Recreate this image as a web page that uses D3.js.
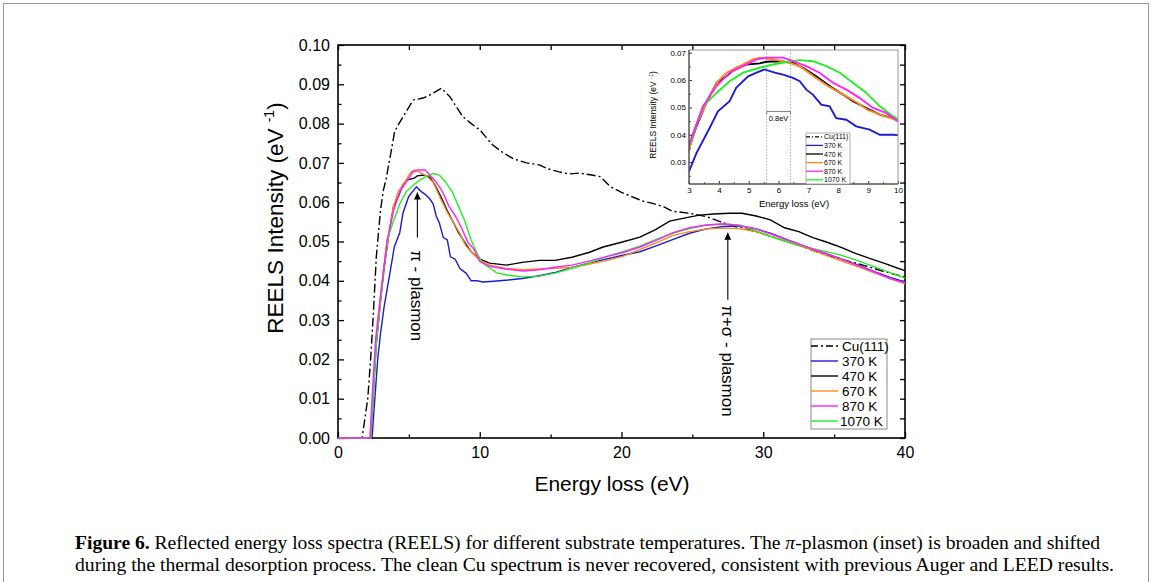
<!DOCTYPE html>
<html lang="en">
<head>
<meta charset="UTF-8">
<title>REELS spectra</title>
<script src="https://cdn.jsdelivr.net/npm/d3@7"></script>
<style>
    body { margin: 0; background: #fff; }
    #chart text { font-family: "Liberation Sans", Arial, sans-serif; fill: #000; }
    #chart .caption text { font-family: "Liberation Serif", "Times New Roman", serif; }
</style>
</head>
<body>
<div id="chart"></div>
<script type="text/javascript">
    // [energy loss (eV), intensity (1/eV)]
    var cu111 = [[0,0],[1.7,0],[1.9,0.005],[2.1,0.010],[2.3,0.020],[2.5,0.032],[2.7,0.046],[3.0,0.058],[3.2,0.063],[3.4,0.066],
        [3.7,0.072],[4.0,0.078],[4.3,0.080],[4.8,0.083],[5.3,0.086],[6.0,0.0865],[6.6,0.0875],[7.3,0.089],[7.9,0.0868],[8.4,0.084],
        [8.8,0.0818],[9.4,0.080],[10.0,0.0784],[10.9,0.0746],[11.6,0.0727],[12.4,0.071],[13.3,0.070],[14.2,0.0695],[14.8,0.0685],
        [15.6,0.0677],[16.3,0.0672],[17.0,0.0674],[17.8,0.067],[18.5,0.0665],[19.2,0.064],[20.0,0.0625],[20.8,0.0613],[21.5,0.0603],
        [22.2,0.0597],[23.0,0.0588],[23.6,0.0577],[24.8,0.0572],[26.0,0.0563],[27.0,0.055],[28.0,0.0538],[29.0,0.053],[30.2,0.0517],
        [31.4,0.0503],[32.5,0.049],[33.7,0.0475],[34.9,0.046],[36.0,0.045],[37.2,0.0438],[38.4,0.0425],[39.6,0.0413],[40,0.041]];
    var k370 = [[0,0],[2.4,0],[2.6,0.010],[2.8,0.020],[3.0,0.0266],[3.25,0.0333],[3.69,0.0425],[3.97,0.0486],[4.36,0.0523],[4.58,0.0572],
        [4.98,0.0614],[5.26,0.0627],[5.53,0.0639],[5.87,0.0627],[6.15,0.062],[6.48,0.0608],[6.71,0.0596],[6.93,0.0565],[7.15,0.0547],
        [7.43,0.051],[7.71,0.0504],[7.93,0.0461],[8.27,0.0455],[8.6,0.0431],[9.05,0.0419],[9.39,0.040],[9.83,0.040],[10.2,0.0397],
        [11,0.0399],[12,0.0402],[13,0.0406],[14.2,0.0413],[15.4,0.0422],[16.5,0.0434],[17.7,0.0445],[18.9,0.0455],[20.1,0.0465],
        [21.3,0.0474],[22.4,0.0488],[23.6,0.0505],[24.8,0.0521],[26,0.0532],[27.2,0.0538],[28.3,0.054],[29.5,0.0532],[30.6,0.052],
        [31.8,0.0503],[33,0.0487],[34.2,0.0472],[35.4,0.0457],[36.6,0.0441],[37.8,0.0424],[39,0.0408],[40,0.0397]];
    var k470 = [[0,0],[2.3,0],[2.5,0.012],[2.7,0.024],[2.9,0.031],[3.0,0.035],[3.25,0.0431],[3.58,0.0517],[3.92,0.059],[4.25,0.0614],
        [4.58,0.0645],[4.92,0.0657],[5.37,0.0661],[5.59,0.0667],[6.04,0.0669],[6.48,0.0663],[6.82,0.0645],[7.26,0.0614],[7.71,0.0578],
        [8.16,0.0547],[8.49,0.0523],[8.94,0.0498],[9.39,0.0474],[10,0.0455],[10.7,0.0445],[11.9,0.044],[13,0.0447],[14.2,0.0452],
        [15.3,0.0452],[16.5,0.046],[17.7,0.0472],[18.7,0.0486],[20,0.0498],[21.3,0.0511],[22.4,0.053],[23.4,0.0552],[24.5,0.056],
        [25.5,0.0567],[26.5,0.057],[27.6,0.0572],[28.5,0.0572],[29.5,0.0565],[30.5,0.0555],[31.5,0.0535],[32.5,0.0525],[33.5,0.051],
        [34.5,0.0498],[35.5,0.0485],[36.5,0.047],[37.5,0.0457],[38.5,0.0445],[39.5,0.0432],[40,0.0426]];
    var k670 = [[0,0],[2.3,0],[2.5,0.013],[2.7,0.025],[2.9,0.031],[3.0,0.0345],[3.25,0.0437],[3.69,0.0541],[3.92,0.059],[4.25,0.0627],
        [4.7,0.0651],[5.14,0.0676],[5.37,0.0682],[5.81,0.0676],[6.26,0.0666],[6.71,0.0651],[7.2,0.0612],[7.7,0.0575],[8.2,0.0545],
        [8.6,0.052],[9.0,0.049],[9.5,0.047],[10,0.0452],[10.7,0.044],[11.8,0.0432],[13,0.0428],[14.2,0.043],[15.4,0.0432],[16.5,0.0434],
        [17.7,0.0442],[19,0.0452],[20.1,0.0462],[21.2,0.0478],[22.4,0.0496],[23.6,0.0515],[24.8,0.0525],[26,0.0532],[27.2,0.0534],
        [28.3,0.0533],[29.5,0.0525],[30.6,0.0512],[31.8,0.0498],[33,0.0484],[34.2,0.0468],[35.4,0.0452],[36.6,0.0437],[37.8,0.0421],
        [39,0.0405],[40,0.0392]];
    var k870 = [[0,0],[2.25,0],[2.45,0.013],[2.65,0.025],[2.8,0.030],[3.0,0.0364],[3.47,0.0504],[3.92,0.0578],[4.36,0.0627],[4.81,0.0651],
        [5.26,0.0676],[5.59,0.0682],[6.15,0.0682],[6.48,0.0669],[6.93,0.0651],[7.37,0.0627],[7.82,0.059],[8.27,0.0565],[8.71,0.0535],
        [9.16,0.0498],[9.6,0.048],[10,0.0449],[10.7,0.0437],[11.8,0.043],[13,0.0425],[14.2,0.0428],[15.4,0.0435],[16.5,0.044],
        [17.7,0.045],[19,0.0462],[20.1,0.0472],[21.3,0.0486],[22.4,0.0502],[23.6,0.0522],[24.8,0.0535],[26,0.0542],[27.2,0.0545],
        [28.3,0.0541],[29.5,0.0532],[30.6,0.0518],[31.8,0.0503],[33,0.0487],[34.2,0.0472],[35.4,0.0457],[36.6,0.044],[37.8,0.0423],
        [39,0.0405],[40,0.0395]];
    var k1070 = [[0,0],[2.3,0],[2.5,0.012],[2.7,0.024],[2.85,0.030],[3.0,0.0358],[3.47,0.0504],[3.92,0.0553],[4.36,0.0596],[4.81,0.0627],
        [5.37,0.0645],[5.81,0.0657],[6.26,0.0666],[6.71,0.0673],[7.15,0.0669],[7.6,0.0651],[8.05,0.0627],[8.49,0.059],[8.94,0.0553],
        [9.39,0.0504],[9.83,0.0468],[10.2,0.0445],[11.2,0.042],[12,0.0414],[13,0.041],[14.2,0.0412],[15.4,0.042],[16.5,0.0432],
        [17.7,0.0445],[19,0.0462],[20.1,0.0474],[21.3,0.0488],[22.4,0.0505],[23.6,0.0521],[24.8,0.0533],[26,0.0542],[27.2,0.0544],
        [28.3,0.0542],[29.5,0.0527],[30.6,0.0512],[31.8,0.0498],[33,0.0486],[34.2,0.0476],[35.4,0.0466],[36.6,0.0452],[37.8,0.0436],
        [39,0.042],[40,0.0407]];

    var seriesNames = ['Cu(111)', '370 K', '470 K', '670 K', '870 K', '1070 K'];
    var seriesData = [cu111, k370, k470, k670, k1070, k870];
    var legendOrder = [0, 1, 2, 3, 5, 4];

    var xTicks = [0, 10, 20, 30, 40];
    var xMinor = [5, 15, 25, 35];
    var yTicks = [0, 0.01, 0.02, 0.03, 0.04, 0.05, 0.06, 0.07, 0.08, 0.09, 0.10];
    var insetXTicks = [3, 4, 5, 6, 7, 8, 9, 10];
    var insetYTicks = [0.03, 0.04, 0.05, 0.06, 0.07];
    var shiftMarks = [5.6, 6.4];

    var colors = ['#000', '#1c1cd8', '#000', '#ff8a1c', '#22ee22', '#ff22ff'];
    var dashes = ['9,3,2,3', null, null, null, null, null];

    var W = 1152, H = 582;
    var svg = d3.select('#chart').append('svg').attr('width', W).attr('height', H);

    svg.append('rect').attr('x', 3.5).attr('y', 3.5).attr('width', 1145).attr('height', 620)
        .attr('fill', 'none').attr('stroke', '#9a9a9a').attr('stroke-width', 1);

    var x = d3.scaleLinear().domain([0, 40]).range([338, 905]);
    var y = d3.scaleLinear().domain([0, 0.10]).range([438, 45]);

    var line = d3.line().x(function (d) { return x(d[0]); }).y(function (d) { return y(d[1]); });

    function styleAxis(g, size) {
        g.select('.domain').remove();
        g.selectAll('line').attr('stroke', '#000').attr('stroke-width', 1.3);
        g.attr('font-size', size).attr('font-family', null);
    }

    var fmtE = d3.format('d'), fmtI = d3.format('.2f');
    var allX = d3.range(0, 41, 5), allY = d3.range(0, 0.1001, 0.005);
    svg.append('g').attr('transform', 'translate(0,438)')
        .call(d3.axisBottom(x).tickValues(xTicks).tickSize(-6).tickPadding(9).tickFormat(fmtE))
        .call(styleAxis, 16);
    svg.append('g').attr('transform', 'translate(0,438)')
        .call(d3.axisBottom(x).tickValues(xMinor).tickSize(-3.5).tickFormat(''))
        .call(styleAxis, 16);
    svg.append('g').attr('transform', 'translate(0,45)')
        .call(d3.axisTop(x).tickValues(allX).tickSize(-5).tickFormat(''))
        .call(styleAxis, 16);
    svg.append('g').attr('transform', 'translate(338,0)')
        .call(d3.axisLeft(y).tickValues(yTicks).tickSize(-6).tickPadding(8).tickFormat(fmtI))
        .call(styleAxis, 16);
    svg.append('g').attr('transform', 'translate(338,0)')
        .call(d3.axisLeft(y).tickValues(allY.filter(function (v, i) { return i % 2; })).tickSize(-3.5).tickFormat(''))
        .call(styleAxis, 16);
    svg.append('g').attr('transform', 'translate(905,0)')
        .call(d3.axisRight(y).tickValues(allY).tickSize(-5).tickFormat(''))
        .call(styleAxis, 16);
    svg.append('rect').attr('x', 338).attr('y', 45).attr('width', 567).attr('height', 393)
        .attr('fill', 'none').attr('stroke', '#000').attr('stroke-width', 1.6);

    var lines = svg.append('g');
    seriesData.forEach(function (s, i) {
        lines.append('path').datum(s).attr('d', line)
            .attr('fill', 'none').attr('stroke', colors[i]).attr('stroke-width', 1.4)
            .attr('stroke-dasharray', dashes[i]);
    });

    svg.append('text').attr('x', 612).attr('y', 491).attr('text-anchor', 'middle')
        .attr('font-size', 21).text('Energy loss (eV)');
    var yl = svg.append('text').attr('transform', 'translate(283,218) rotate(-90)')
        .attr('text-anchor', 'middle').attr('font-size', 22.5);
    yl.append('tspan').text('REELS Intensity (eV ');
    yl.append('tspan').attr('font-size', 14).attr('dy', -9).text('-1');
    yl.append('tspan').attr('dy', 9).text(')');

    // annotation arrows
    var marker = svg.append('defs').append('marker').attr('id', 'head')
        .attr('viewBox', '0 0 10 10').attr('refX', 10).attr('refY', 5)
        .attr('markerUnits', 'userSpaceOnUse').attr('markerWidth', 11).attr('markerHeight', 7)
        .attr('orient', 'auto');
    marker.append('path').attr('d', 'M0,0L10,5L0,10z').attr('fill', '#000');

    var notes = [
        {label: 'π - plasmon', e: 5.6, head: 0.0625, tail: 0.051, text: 0.0478},
        {label: 'π+σ - plasmon', e: 27.5, head: 0.0522, tail: 0.0352, text: 0.0338}
    ];
    notes.forEach(function (n) {
        svg.append('line').attr('x1', x(n.e)).attr('x2', x(n.e)).attr('y1', y(n.tail)).attr('y2', y(n.head))
            .attr('stroke', '#000').attr('stroke-width', 1.1).attr('marker-end', 'url(#head)');
        svg.append('text').attr('transform', 'translate(' + (x(n.e) - 6) + ',' + y(n.text) + ') rotate(90)')
            .attr('font-size', 17).text(n.label);
    });

    // main legend
    var lg = svg.append('g').attr('transform', 'translate(811,339)');
    lg.append('rect').attr('width', 76).attr('height', 90).attr('fill', '#fff')
        .attr('stroke', '#888').attr('stroke-width', 1);
    seriesNames.forEach(function (name, i) {
        var k = legendOrder[i], ry = 7 + i * 15;
        lg.append('line').attr('x1', 0).attr('x2', 27).attr('y1', ry).attr('y2', ry)
            .attr('stroke', colors[k]).attr('stroke-width', 1.4).attr('stroke-dasharray', dashes[k] ? '7,3,2,3' : null);
        lg.append('text').attr('x', i === 5 ? 29 : 31).attr('y', ry + 5).attr('font-size', 13.5).text(name);
    });

    // inset
    var xi = d3.scaleLinear().domain([3, 10]).range([689, 898]);
    var yi = d3.scaleLinear().domain([0.022, 0.071]).range([184, 50]);
    var lineI = d3.line().x(function (d) { return xi(d[0]); }).y(function (d) { return yi(d[1]); });
    var inset = svg.append('g');
    inset.append('rect').attr('x', 689).attr('y', 50).attr('width', 209).attr('height', 134).attr('fill', '#fff');
    svg.append('clipPath').attr('id', 'clipI').append('rect')
        .attr('x', 689).attr('y', 50).attr('width', 209).attr('height', 134);

    shiftMarks.forEach(function (e) {
        inset.append('line').attr('x1', xi(e)).attr('x2', xi(e)).attr('y1', 50).attr('y2', 184)
            .attr('stroke', '#999').attr('stroke-width', 0.8).attr('stroke-dasharray', '1.5,1.5');
    });
    var by = yi(0.0485);
    inset.append('path')
        .attr('d', 'M' + xi(5.6) + ',' + (by + 3) + 'V' + by + 'H' + xi(6.4) + 'V' + (by + 3))
        .attr('fill', 'none').attr('stroke', '#666').attr('stroke-width', 0.8);
    inset.append('text').attr('x', xi(6.0)).attr('y', by + 9).attr('text-anchor', 'middle')
        .attr('font-size', 7.5).attr('fill', '#444').text('0.8eV');

    // the clean Cu spectrum is only listed in the inset legend
    var il = inset.append('g').attr('clip-path', 'url(#clipI)');
    seriesData.forEach(function (s, i) {
        if (i === 0) return;
        il.append('path').datum(s.filter(function (d) { return d[0] >= 2.8 && d[0] <= 10.3; }))
            .attr('d', lineI).attr('fill', 'none').attr('stroke', colors[i]).attr('stroke-width', 1.9);
    });

    inset.append('g').attr('transform', 'translate(0,184)')
        .call(d3.axisBottom(xi).tickValues(insetXTicks).tickSize(-3).tickPadding(3).tickFormat(fmtE))
        .call(styleAxis, 8);
    inset.append('g').attr('transform', 'translate(0,184)')
        .call(d3.axisBottom(xi).tickValues(d3.range(3.5, 10, 1)).tickSize(-1.8).tickFormat(''))
        .call(styleAxis, 8);
    inset.append('g').attr('transform', 'translate(689,0)')
        .call(d3.axisLeft(yi).tickValues(insetYTicks).tickSize(-3).tickPadding(3).tickFormat(fmtI))
        .call(styleAxis, 8);
    inset.append('g').attr('transform', 'translate(689,0)')
        .call(d3.axisLeft(yi).tickValues([0.025, 0.035, 0.045, 0.055, 0.065]).tickSize(-1.8).tickFormat(''))
        .call(styleAxis, 8);
    inset.selectAll('.tick line').attr('stroke-width', 0.8);
    inset.append('rect').attr('x', 689).attr('y', 50).attr('width', 209).attr('height', 134)
        .attr('fill', 'none').attr('stroke', '#999').attr('stroke-width', 1);
    inset.append('path').attr('d', 'M689,50V184H898').attr('fill', 'none').attr('stroke', '#333').attr('stroke-width', 1);

    inset.append('text').attr('x', 794).attr('y', 207).attr('text-anchor', 'middle')
        .attr('font-size', 9.5).text('Energy loss (eV)');
    var iyl = inset.append('text').attr('transform', 'translate(656,115) rotate(-90)')
        .attr('text-anchor', 'middle').attr('font-size', 8.5);
    iyl.append('tspan').text('REELS Intensity (eV ');
    iyl.append('tspan').attr('font-size', 5.5).attr('dy', -3).text('-1');
    iyl.append('tspan').attr('dy', 3).text(')');

    var ilg = inset.append('g').attr('transform', 'translate(806,133)');
    ilg.append('rect').attr('width', 44).attr('height', 51).attr('fill', '#fff')
        .attr('stroke', '#999').attr('stroke-width', 0.8);
    seriesNames.forEach(function (name, i) {
        var k = legendOrder[i], ry = 3.8 + i * 8.6;
        ilg.append('line').attr('x1', 0).attr('x2', 17).attr('y1', ry).attr('y2', ry)
            .attr('stroke', colors[k]).attr('stroke-width', 1.3).attr('stroke-dasharray', dashes[k] ? '4,2,1,2' : null);
        ilg.append('text').attr('x', 18).attr('y', ry + 2.6).attr('font-size', 7).text(name);
    });

    // caption
    var cap1 = [['Figure 6.', 'bold', null], [' Reflected energy loss spectra (REELS) for different substrate temperatures. The ', null, null],
        ['π', null, 'italic'], ['-plasmon (inset) is broaden and shifted', null, null]];
    var cap2 = 'during the thermal desorption process. The clean Cu spectrum is never recovered, consistent with previous Auger and LEED results.';
    var capG = svg.append('g').attr('class', 'caption');
    var c1 = capG.append('text').attr('x', 75).attr('y', 549).attr('font-size', 19)
        .attr('textLength', 1025).attr('lengthAdjust', 'spacingAndGlyphs');
    cap1.forEach(function (p) {
        c1.append('tspan').attr('font-weight', p[1]).attr('font-style', p[2]).text(p[0]);
    });
    capG.append('text').attr('x', 75).attr('y', 571).attr('font-size', 19)
        .attr('textLength', 1039).attr('lengthAdjust', 'spacingAndGlyphs').text(cap2);
</script>
</body>
</html>
